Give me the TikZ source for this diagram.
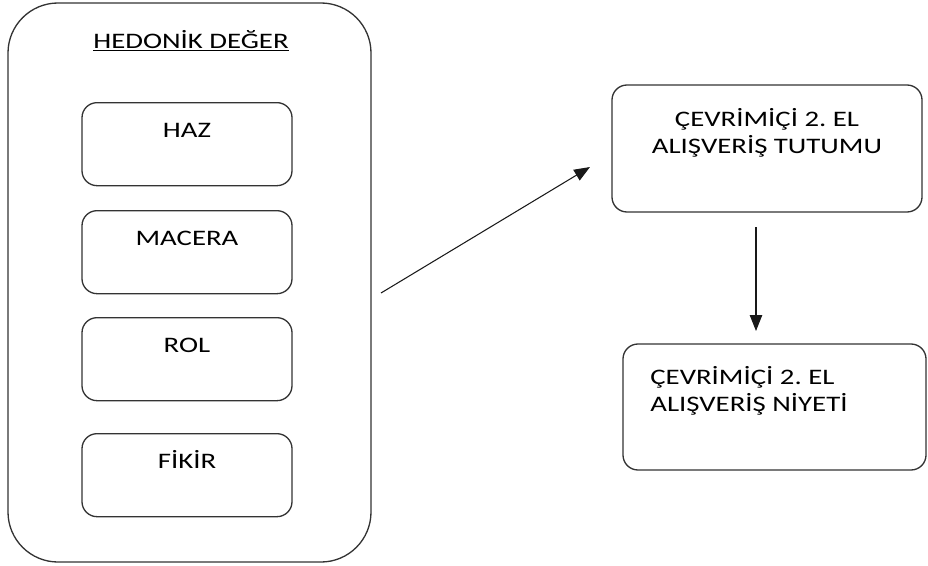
\documentclass[tikz,border=0pt]{standalone}
\usepackage{fontspec}
\setmainfont{Carlito}[FakeStretch=1.3]
\frenchspacing
\usetikzlibrary{arrows.meta, positioning}
\tikzset{
  box/.style={draw=black!80, line width=0.75pt, rounded corners=3mm, inner sep=0pt},
  itembox/.style={box, anchor=north, minimum width=42mm, text height=7mm, text depth=9.6mm},
  boxtext/.style={inner sep=0pt, font=\fontsize{12.6}{15.3}\selectfont, text=black},
  link/.style={-{Triangle[length=9pt,width=7pt]}, line width=0.6pt, black!90}
}

\begin{document}
\begin{tikzpicture}[x=0.2mm, y=-0.2mm]
            \useasboundingbox (0,0) rectangle (928,565);
            \node[box, rounded corners=10mm, minimum width=72.6mm, minimum height=111.8mm] (hedonik) at (189.5,282.5) {};
            \node[boxtext, anchor=base] (title) at (191,48) {\underline{HEDONİK DEĞER}};

            \node[itembox, boxtext] (haz) at (187,102) {HAZ};
            \node[itembox, boxtext] (macera) at (187,210) {MACERA};
            \node[itembox, boxtext] (rol) at (187,317) {ROL};
            \node[itembox, boxtext] (fikir) at (187,433) {FİKİR};

            \node[box, minimum width=62mm, minimum height=25.4mm] (tutum) at (767,148.5) {};
            \node[boxtext, align=center, anchor=north] (tutumtext) at (767,108) {ÇEVRİMİÇİ 2. EL\\ALIŞVERİŞ TUTUMU};

            \node[box, minimum width=60.6mm, minimum height=25.2mm] (niyet) at (774.5,407) {};
            \node[boxtext, align=left, anchor=north west] (niyettext) at (650,366) {ÇEVRİMİÇİ 2. EL\\ALIŞVERİŞ NİYETİ};

            \coordinate (P1) at (381,293);
            \coordinate (P2) at (590,167);
            \coordinate (P3) at (756,227);
            \coordinate (P4) at (756,331);
            \draw[link] (P1) -- (P2);
            \draw[link] (P3) -- (P4);
        \end{tikzpicture}
\end{document}
